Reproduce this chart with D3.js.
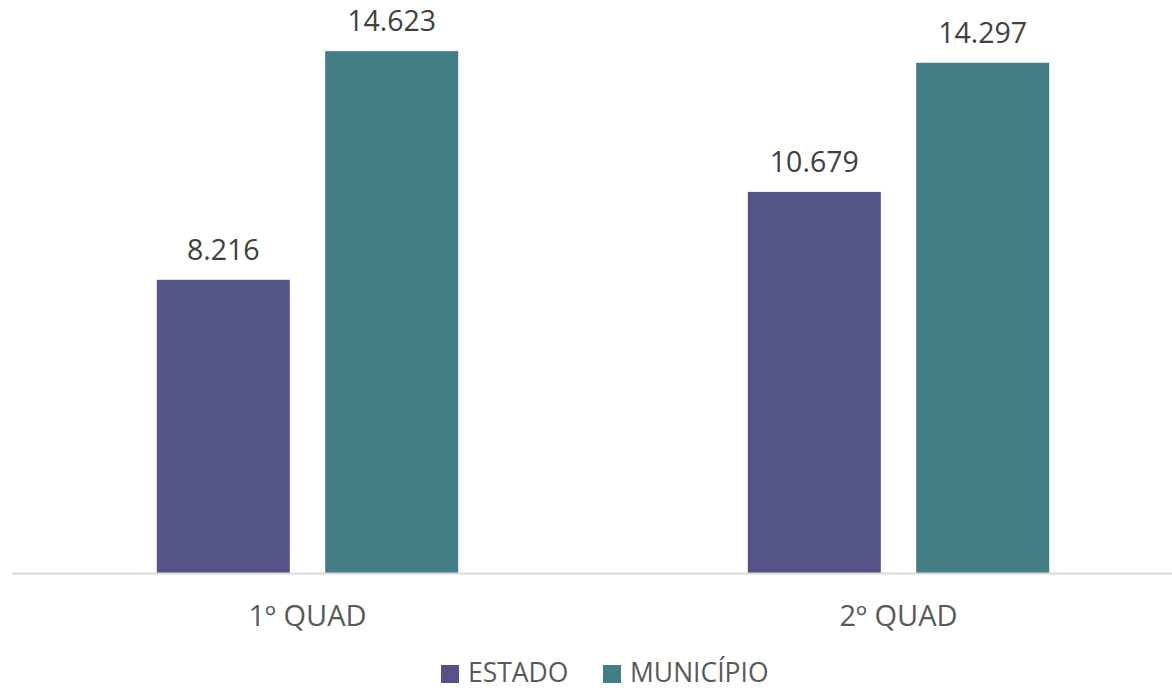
<!DOCTYPE html>
<html>
<head>
<meta charset="utf-8">
<script src="https://cdn.jsdelivr.net/npm/d3@7"></script>
<style>
  body { margin: 0; background: #fff; }
  text { font-family: "Open Sans", sans-serif; }
</style>
</head>
<body>
<div id="chart"></div>
<script>
// data
const categories = ["1º QUAD", "2º QUAD"];
const seriesNames = ["ESTADO", "MUNICÍPIO"];
const estado = [8216, 10679];
const municipio = [14623, 14297];
const colors = ["#545388", "#437E84"];

const width = 1172, height = 690;
// plot area runs a bit past the right edge, like the original
const margin = { top: 0, left: 12, right: -22, bottom: 117 };

const svg = d3.select("#chart").append("svg")
  .attr("width", width)
  .attr("height", height);

const rows = categories.map((c, i) => ({ cat: c, values: [estado[i], municipio[i]] }));

// x scales
const x0 = d3.scaleBand()
  .domain(categories)
  .range([margin.left, width - margin.right])
  .paddingOuter(0.245)
  .paddingInner(0.49);

const x1 = d3.scaleBand()
  .domain(seriesNames)
  .range([0, x0.bandwidth()])
  .paddingInner(0.21)
  .paddingOuter(0);

// y scale
const y = d3.scaleLinear()
  .domain([0, 16000])
  .range([height - margin.bottom, 2]);

const baseY = y(0);

// groups
const group = svg.append("g").selectAll("g")
  .data(rows)
  .join("g")
  .attr("transform", d => `translate(${x0(d.cat)},0)`);

group.selectAll("rect")
  .data(d => d.values.map((v, j) => ({ key: seriesNames[j], v: v, j: j })))
  .join("rect")
  .attr("x", d => x1(d.key))
  .attr("y", d => y(d.v))
  .attr("width", x1.bandwidth())
  .attr("height", d => baseY - y(d.v))
  .attr("fill", d => colors[d.j]);

// value labels (dot as thousands separator)
const fmt = v => d3.format(",")(v).replace(/,/g, ".");
group.selectAll("text.val")
  .data(d => d.values.map((v, j) => ({ key: seriesNames[j], v: v })))
  .join("text")
  .attr("class", "val")
  .attr("x", d => x1(d.key) + x1.bandwidth() / 2)
  .attr("y", d => y(d.v) - 20)
  .attr("text-anchor", "middle")
  .attr("font-size", 28.5)
  .attr("fill", "#404040")
  .text(d => fmt(d.v));

// axis line
svg.append("line")
  .attr("x1", margin.left)
  .attr("x2", width)
  .attr("y1", baseY + 0.5)
  .attr("y2", baseY + 0.5)
  .attr("stroke", "#d9d9d9")
  .attr("stroke-width", 2);

// category labels
svg.append("g").selectAll("text")
  .data(categories)
  .join("text")
  .attr("x", d => x0(d) + x0.bandwidth() / 2)
  .attr("y", baseY + 53)
  .attr("text-anchor", "middle")
  .attr("font-size", 29)
  .attr("fill", "#595959")
  .text(d => d);

// legend
const legendX = [441, 603];
const legend = svg.append("g").selectAll("g")
  .data(seriesNames)
  .join("g")
  .attr("transform", (d, i) => `translate(${legendX[i]},665)`);

legend.append("rect")
  .attr("width", 18)
  .attr("height", 18)
  .attr("fill", (d, i) => colors[i]);

legend.append("text")
  .attr("x", 27)
  .attr("y", 17)
  .attr("font-size", 26.5)
  .attr("fill", "#595959")
  .text(d => d);
</script>
</body>
</html>
